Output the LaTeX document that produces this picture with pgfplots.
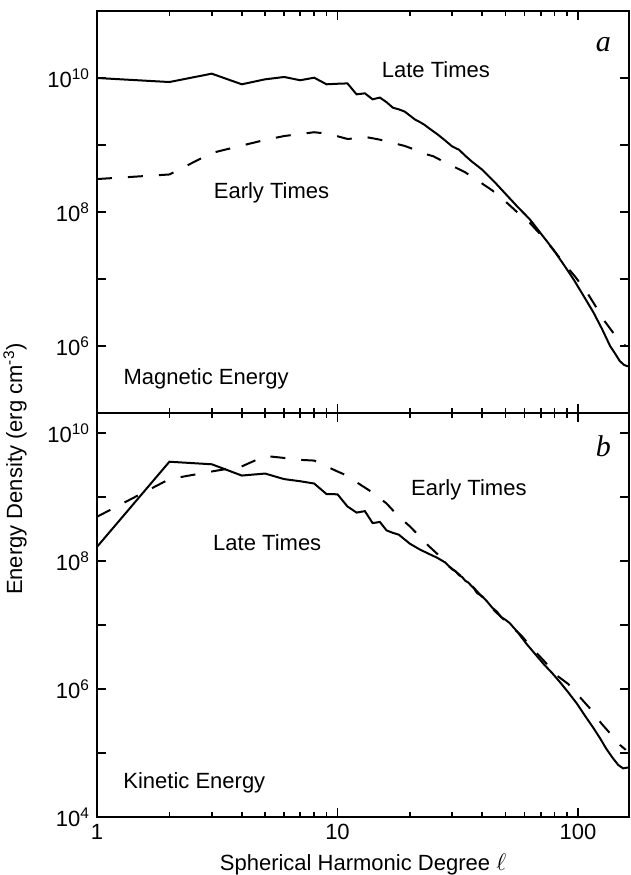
\documentclass[border=0pt]{standalone}
\usepackage{fontspec}
\setmainfont{Liberation Sans}
\newfontfamily\serifit{Liberation Serif}
\usepackage{pgfplots}
\pgfplotsset{compat=1.18}

\pgfplotsset{
  specpanel/.style={
    scale only axis, width=266pt, height=201pt,
    xmin=1, xmax=163,
    axis line style={line width=1pt},
    tick align=inside,
    major tick length=4.5pt, minor tick length=2.5pt,
    tick style={black, line width=0.8pt},
    xtick={1,10,100},
    minor xtick={2,3,4,5,6,7,8,9,20,30,40,50,60,70,80,90},
    yminorticks=false,
    font=\fontsize{11}{13}\selectfont,
    tick label style={font=\fontsize{11}{13}\selectfont},
  },
  late/.style={black, line width=1pt},
  early/.style={black, line width=1pt, dash pattern=on 7.5pt off 8pt},
}

\begin{document}
\begin{tikzpicture}
% kinetic energy (bottom panel)
\begin{loglogaxis}[specpanel, name=bot, at={(0,0)}, anchor=south west,
    height=202pt,
    ymin=1e4, ymax=2.05e10,
    ytick={1e4,1e5,1e6,1e7,1e8,1e9,1e10},
    yticklabels={10\textsuperscript{4},,10\textsuperscript{6},,10\textsuperscript{8},,10\textsuperscript{10}},
    xticklabels={1,10,100},
    xlabel={Spherical Harmonic Degree {\large$\ell$}},
]
\addplot[late] coordinates {
 (1,1.66e8)(2,3.55e9)(3,3.24e9)(4,2.16e9)(5,2.32e9)(6,1.9e9)(7,1.76e9)(8,1.62e9)
 (9,1.11e9)(10,1.1e9)(11,7.1e8)(12,5.7e8)(13,6.0e8)(14,3.9e8)(15,4.07e8)(16,3.0e8)
 (17,2.75e8)(18,2.57e8)(20,1.86e8)(22,1.51e8)(24,1.29e8)(26,1.12e8)(28,9.5e7)
 (30,7.4e7)(31,6.9e7)(32,6.0e7)(33,5.6e7)(34,4.9e7)(35,4.6e7)(36,4.1e7)(37,3.7e7)
 (38,3.16e7)(40,2.8e7)(42,2.3e7)(44,1.86e7)(46,1.62e7)(48,1.32e7)(50,1.2e7)(52,1.07e7)
 (56,7.8e6)(61,5.1e6)(66,3.6e6)(72,2.45e6)(78,1.78e6)(84,1.29e6)(91,8.9e5)(99,5.9e5)
 (107,3.8e5)(116,2.45e5)(124,1.66e5)(131,1.17e5)(139,8.5e4)(147,6.5e4)(154,5.75e4)
 (160,5.9e4)(163,5.9e4)
};
\addplot[early] coordinates {
 (1,4.9e8)(2,1.9e9)(3,2.5e9)(4,3.0e9)(5,4.37e9)(6,4.07e9)(7,3.8e9)(8,3.7e9)
 (9,3.0e9)(10,2.5e9)(11,2.14e9)(12,1.7e9)(14,1.17e9)(16,7.9e8)(18,4.9e8)(20,3.47e8)
 (22,2.4e8)(24,1.7e8)(26,1.29e8)(29,8.3e7)(32,6.2e7)(36,4.2e7)(42,2.24e7)(45,1.66e7)
 (52,1.0e7)(58,6.9e6)(65,4.2e6)(73,2.63e6)(81,1.66e6)(91,1.2e6)(103,7.1e5)(112,5.0e5)
 (125,2.9e5)(138,1.9e5)(150,1.32e5)(158,1.12e5)
};
\node at (rel axis cs:0.699,0.809) {Early Times};
\node at (rel axis cs:0.32,0.678) {Late Times};
\node at (rel axis cs:0.183,0.085) {Kinetic Energy};
\node[font=\serifit\itshape\fontsize{15}{17}\selectfont] at (rel axis cs:0.952,0.918) {b};
\end{loglogaxis}

% magnetic energy (top panel)
\begin{loglogaxis}[specpanel, name=top, at={(bot.north west)}, anchor=south west,
    ymin=1e5, ymax=1e11,
    ytick={1e5,1e6,1e7,1e8,1e9,1e10,1e11},
    yticklabels={,10\textsuperscript{6},,10\textsuperscript{8},,10\textsuperscript{10},},
    xticklabels={},
]
\addplot[late] coordinates {
 (1,1.00e10)(2,8.7e9)(3,1.16e10)(4,8.05e9)(5,9.55e9)(6,1.035e10)(7,9.25e9)(8,1.01e10)
 (9,8.05e9)(10,8.2e9)(11,8.3e9)(12,5.7e9)(13,5.9e9)(14,4.8e9)(15,5.1e9)(16,4.35e9)
 (17,3.6e9)(18,3.4e9)(19,3.16e9)(20,2.75e9)(21,2.4e9)(22,2.2e9)(23,2.0e9)(24,1.78e9)
 (26,1.45e9)(28,1.17e9)(30,9.5e8)(32,8.5e8)(34,6.9e8)(36,5.75e8)(40,4.27e8)(45,2.8e8)
 (50,1.86e8)(56,1.2e8)(63,7.8e7)(70,4.8e7)(79,2.75e7)(87,1.66e7)(96,9.8e6)(105,5.75e6)
 (116,3.16e6)(126,1.78e6)(136,1.0e6)(143,7.6e5)(149,6.0e5)(155,5.25e5)(160,5.0e5)(163,5.0e5)
};
\addplot[early] coordinates {
 (1,3.1e8)(2,3.63e8)(3,7.6e8)(4,9.8e8)(5,1.19e9)(6,1.36e9)(7,1.46e9)(8,1.55e9)
 (9,1.48e9)(10,1.35e9)(11,1.23e9)(12,1.26e9)(13,1.32e9)(14,1.26e9)(15,1.2e9)(17,1.07e9)
 (19,9.7e8)(21,8.5e8)(23,7.4e8)(25,6.8e8)(28,5.5e8)(31,4.6e8)(34,3.9e8)(38,3.0e8)
 (44,2.1e8)(50,1.43e8)(57,9.3e7)(63,6.9e7)(72,4.1e7)(80,2.57e7)(88,1.66e7)(97,1.1e7)
 (109,6.3e6)(117,4.2e6)(129,2.35e6)(140,1.58e6)(150,1.17e6)(155,1.05e6)(158,1.0e6)
};
\node at (rel axis cs:0.637,0.853) {Late Times};
\node at (rel axis cs:0.328,0.547) {Early Times};
\node at (rel axis cs:0.205,0.085) {Magnetic Energy};
\node[font=\serifit\itshape\fontsize{15}{17}\selectfont] at (rel axis cs:0.952,0.917) {a};
\end{loglogaxis}

\node[rotate=90, font=\fontsize{11}{13}\selectfont] at ([xshift=-41pt,yshift=-28pt]bot.north west)
  {Energy Density (erg cm\textsuperscript{-3})};

\pgfresetboundingbox
\path ([xshift=-48.5pt,yshift=-29pt]bot.south west) rectangle ([xshift=0.5pt,yshift=5.5pt]top.north east);
\end{tikzpicture}
\end{document}
